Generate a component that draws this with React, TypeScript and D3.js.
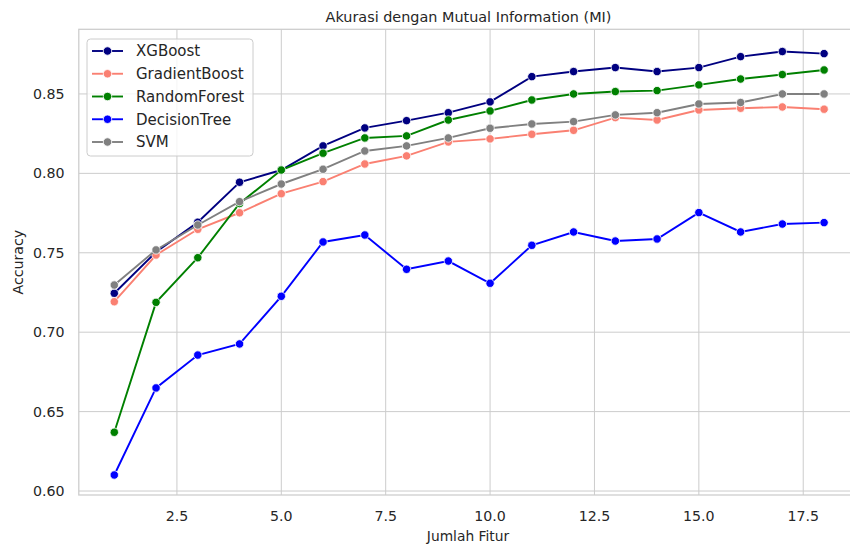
import React from "react";
import * as d3 from "d3";

const features = [1, 2, 3, 4, 5, 6, 7, 8, 9, 10, 11, 12, 13, 14, 15, 16, 17, 18];
const xgboost = [0.7245, 0.7505, 0.7692, 0.7944, 0.8021, 0.8173, 0.8286, 0.8332, 0.8382, 0.845, 0.8609, 0.8641, 0.8666, 0.8641, 0.8666, 0.8735, 0.8767, 0.8754];
const gradientBoost = [0.7192, 0.7486, 0.7648, 0.7752, 0.7872, 0.7948, 0.8059, 0.811, 0.8198, 0.8217, 0.8246, 0.8271, 0.8351, 0.8336, 0.8399, 0.841, 0.8418, 0.8404];
const randomForest = [0.637, 0.7188, 0.7469, 0.781, 0.8021, 0.8127, 0.8223, 0.8236, 0.8336, 0.8393, 0.8462, 0.85, 0.8515, 0.8521, 0.8557, 0.8594, 0.8622, 0.8651];
const decisionTree = [0.6101, 0.6649, 0.6856, 0.6926, 0.7226, 0.7568, 0.7612, 0.7396, 0.7448, 0.7308, 0.7547, 0.7631, 0.7574, 0.7587, 0.7753, 0.7631, 0.7681, 0.769];
const svm = [0.7297, 0.7518, 0.7675, 0.7822, 0.7933, 0.8026, 0.8141, 0.8173, 0.8223, 0.8284, 0.8311, 0.8326, 0.8368, 0.8382, 0.8437, 0.8446, 0.85, 0.85];

const seriesNames = ["XGBoost", "GradientBoost", "RandomForest", "DecisionTree", "SVM"];
const seriesValues = [xgboost, gradientBoost, randomForest, decisionTree, svm];
const seriesColors = ["#000080", "#FA8072", "#008000", "#0000FF", "#808080"];

const xTicks = [2.5, 5.0, 7.5, 10.0, 12.5, 15.0, 17.5];
const yTicks = [0.6, 0.65, 0.7, 0.75, 0.8, 0.85];

const title = "Akurasi dengan Mutual Information (MI)";
const xLabel = "Jumlah Fitur";
const yLabel = "Accuracy";

const W = 850;
const H = 544;
const plotLeft = 78.8;
const plotRight = 859.6;
const plotTop = 29.3;
const plotBottom = 495;
const FONT = "'DejaVu Sans', sans-serif";
const TEXT = "#262626";
const GRID = "#cccccc";

export default function App() {
  const x = d3.scaleLinear().domain([0.15, 18.85]).range([plotLeft, plotRight]);
  const y = d3.scaleLinear().domain([0.5975, 0.8907]).range([plotBottom, plotTop]);
  const line = d3
    .line<[number, number]>()
    .x((d) => x(d[0]))
    .y((d) => y(d[1]));

  const legendX = 87;
  const legendY = 39;
  const legendRow = 22.75;

  return (
    <svg
      width={W}
      height={H}
      style={{ position: "absolute", left: 0, top: 0, background: "#fff" }}
      fontFamily={FONT}
    >
      <rect x={0} y={0} width={W} height={H} fill="#fff" />
      {/* grid */}
      {xTicks.map((t) => (
        <line key={"gx" + t} x1={x(t)} x2={x(t)} y1={plotTop} y2={plotBottom} stroke={GRID} strokeWidth={1} />
      ))}
      {yTicks.map((t) => (
        <line key={"gy" + t} x1={plotLeft} x2={plotRight} y1={y(t)} y2={y(t)} stroke={GRID} strokeWidth={1} />
      ))}
      {/* spines */}
      <rect
        x={plotLeft}
        y={plotTop}
        width={plotRight - plotLeft}
        height={plotBottom - plotTop}
        fill="none"
        stroke={GRID}
        strokeWidth={1.25}
      />
      {/* tick labels */}
      {xTicks.map((t) => (
        <text key={"tx" + t} x={x(t)} y={521} textAnchor="middle" fontSize={14.2} fill={TEXT}>
          {t.toFixed(1)}
        </text>
      ))}
      {yTicks.map((t) => (
        <text key={"ty" + t} x={64.5} y={y(t)} dy="0.36em" textAnchor="end" fontSize={14.2} fill={TEXT}>
          {t.toFixed(2)}
        </text>
      ))}
      {/* series */}
      {seriesValues.map((vals, i) => {
        const pts = features.map((f, j) => [f, vals[j]] as [number, number]);
        return (
          <g key={seriesNames[i]}>
            <path d={line(pts) || ""} fill="none" stroke={seriesColors[i]} strokeWidth={1.9} />
            {pts.map((p, j) => (
              <circle
                key={j}
                cx={x(p[0])}
                cy={y(p[1])}
                r={4.2}
                fill={seriesColors[i]}
                stroke="#fff"
                strokeWidth={0.8}
              />
            ))}
          </g>
        );
      })}
      {/* legend */}
      <rect
        x={legendX}
        y={legendY}
        width={166}
        height={117}
        rx={3.5}
        fill="#fff"
        fillOpacity={0.8}
        stroke={GRID}
        strokeWidth={1}
      />
      {seriesNames.map((name, i) => {
        const cy = 51 + i * legendRow;
        return (
          <g key={"lg" + name}>
            <line x1={92} x2={123} y1={cy} y2={cy} stroke={seriesColors[i]} strokeWidth={1.9} />
            <circle cx={107.5} cy={cy} r={4.2} fill={seriesColors[i]} stroke="#fff" strokeWidth={0.8} />
            <text x={136} y={cy} dy="0.36em" fontSize={15} fill={TEXT}>
              {name}
            </text>
          </g>
        );
      })}
      {/* labels */}
      <text x={468.5} y={22} textAnchor="middle" fontSize={14.4} fill={TEXT}>
        {title}
      </text>
      <text x={468} y={541} textAnchor="middle" fontSize={13.8} fill={TEXT}>
        {xLabel}
      </text>
      <text
        transform={`translate(22.5, ${(plotTop + plotBottom) / 2}) rotate(-90)`}
        textAnchor="middle"
        fontSize={14.2}
        fill={TEXT}
      >
        {yLabel}
      </text>
    </svg>
  );
}
